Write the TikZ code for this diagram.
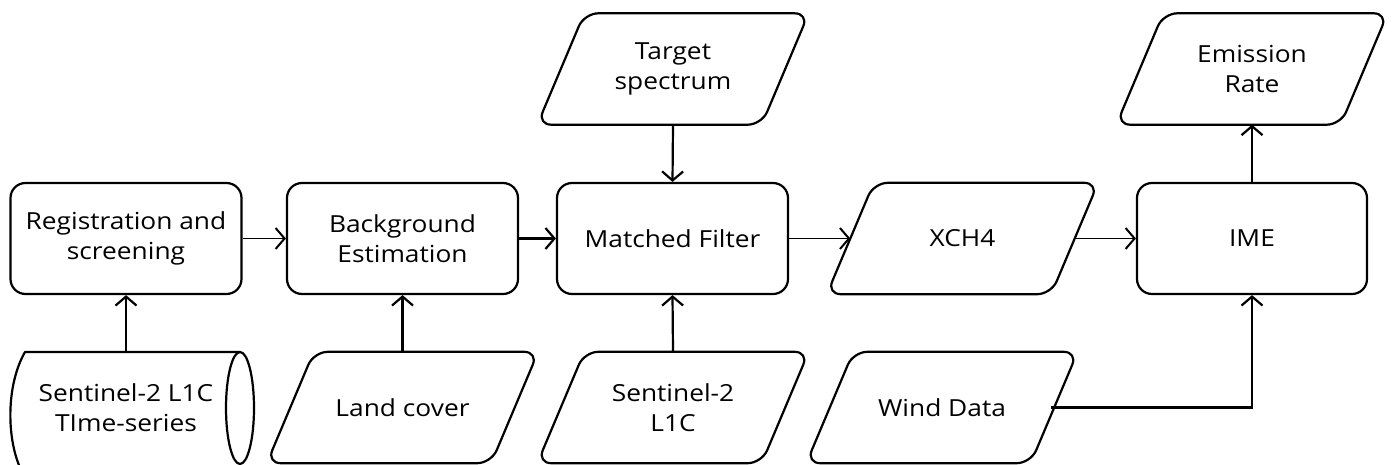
\documentclass[tikz,border=0pt]{standalone}
\usepackage{fontspec}
\setmainfont{Open Sans}[FakeStretch=1.12]
\usetikzlibrary{arrows.meta,calc}
\tikzset{
  boxline/.style={line width=2.2pt, line join=round},
  procbox/.style={boxline, draw, rounded corners=15pt, minimum width=231pt, minimum height=111pt, inner sep=0pt, align=center, font=\fontsize{23.5}{30}\selectfont},
  databox/.style={inner sep=0pt, minimum width=224pt, minimum height=111pt, align=center, font=\fontsize{23.5}{30}\selectfont},
  harrow/.style={line width=1.5pt, -{Straight Barb[length=9pt,width=21pt,line width=2pt]}},
  varrow/.style={line width=2.2pt, -{Straight Barb[length=9pt,width=21pt]}},
}
\newcommand\paradraw[1]{\draw[boxline, rounded corners=14pt] (#1.south) -- ([xshift=-23.5pt]#1.south west) -- ([xshift=23.5pt]#1.north west) -- ([xshift=23.5pt]#1.north east) -- ([xshift=-23.5pt]#1.south east) -- cycle;}
\begin{document}
\begin{tikzpicture}[x=1pt,y=-1pt]
\useasboundingbox (0,0) rectangle (1392,464);
% process boxes
\node[procbox] (reg) at (126,238.5) {Registration and\\screening};
\node[procbox] (bg) at (402.5,238.5) {Background\\Estimation};
\node[procbox] (mf) at (672.5,238.5) {Matched Filter};
\node[procbox, minimum width=230pt] (ime) at (1252,238.5) {IME};
% data parallelograms
\node[databox] (target) at (673,69) {Target\\spectrum};
\paradraw{target}
\node[databox] (emis) at (1252,69) {Emission\\Rate};
\paradraw{emis}
\node[databox] (xch) at (962.5,238.5) {XCH4};
\paradraw{xch}
\node[databox] (land) at (402.5,407.5) {Land cover};
\paradraw{land}
\node[databox] (sen) at (673,407.5) {Sentinel-2\\L1C};
\paradraw{sen}
\node[databox] (wind) at (942,407.5) {Wind Data};
\paradraw{wind}
% stored data (time series)
\node[databox, minimum width=228pt] (ts) at (126,407.5) {Sentinel-2 L1C\\TIme-series};
\draw[boxline] (240,352) -- (25,352) .. controls (6,385) and (6,440) .. (22,472);
\draw[boxline] (240,408) ellipse [x radius=14, y radius=56];
% connectors
\draw[harrow] (reg.east) -- (bg.west);
\draw[varrow] (bg.east) -- (mf.west);
\draw[harrow] (mf.east) -- (xch.west);
\draw[harrow] (xch.east) -- (ime.west);
\draw[varrow] (target.south) -- (mf.north);
\draw[varrow] (ts.north -| reg.south) -- (reg.south);
\draw[varrow] (land.north) -- (bg.south);
\draw[varrow] (sen.north) -- (mf.south);
\draw[varrow] ([xshift=-3pt]wind.east) -| (ime.south);
\draw[varrow] (ime.north) -- (emis.south);
\end{tikzpicture}
\end{document}
